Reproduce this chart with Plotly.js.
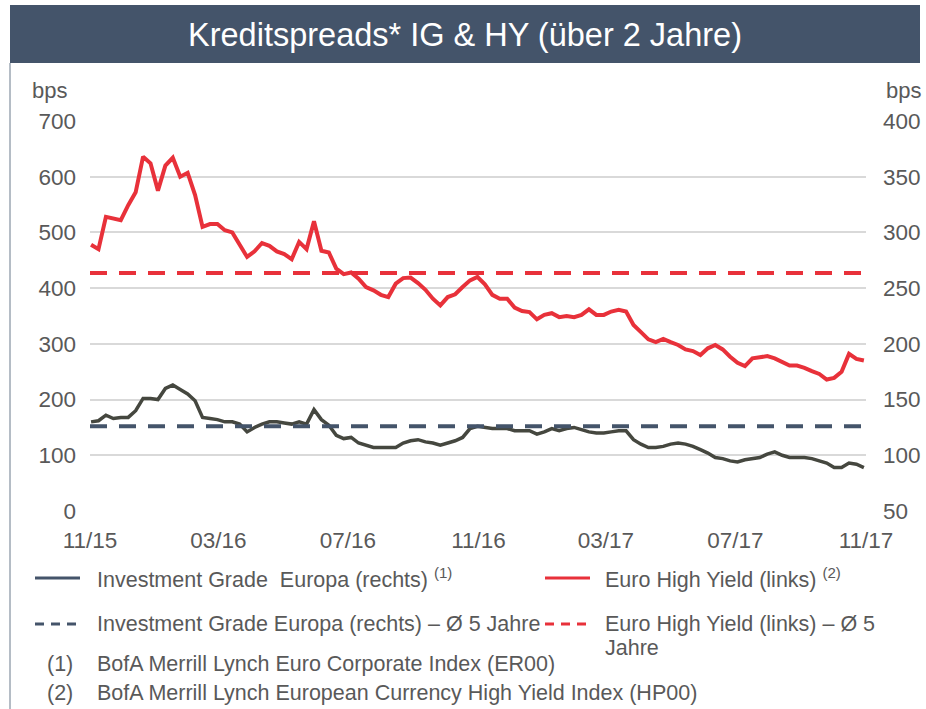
<!DOCTYPE html>
<html><head><meta charset="utf-8">
<script src="https://cdn.plot.ly/plotly-3.0.1.min.js"></script>
<style>html,body{margin:0;padding:0;background:#fff}#chart{width:926px;height:709px}</style>
</head><body><div id="chart"></div>
<script>
// ---- data ----
const startDate = '2015-11-02'; // weekly observations
const hyValues = [
478,470,528,525,522,549,572,636,624,575,
620,634,600,607,567,510,515,515,504,500,
479,456,466,481,476,466,461,452,483,470,
520,467,464,435,425,428,417,402,396,388,
384,408,418,419,409,397,381,369,384,389,
402,414,420,407,388,381,381,365,359,357,
344,352,355,348,350,348,352,362,352,352,
358,361,358,334,321,308,303,309,303,298,
290,287,280,292,298,290,277,266,260,274,
276,278,274,267,261,261,257,251,246,236,
239,250,282,273,270];
const igValues = [
130,131,136,133,134,134,140,151,151,150,
160,163,159,155,149,134,133,132,130,130,
128,121,125,128,130,130,129,128,130,128,
141,132,127,118,115,116,111,109,107,107,
107,107,111,113,114,112,111,109,111,113,
116,124,126,125,124,124,124,122,122,122,
119,121,124,122,124,125,123,121,120,120,
121,122,122,114,110,107,107,108,110,111,
110,108,105,102,98,97,95,94,96,97,
98,101,103,100,98,98,98,97,95,93,
89,89,93,92,89];
const hyAverage5y = 427;
const igAverage5y = 126;
const tickDates = ['2015-11-01','2016-03-01','2016-07-01','2016-11-01','2017-03-01','2017-07-01','2017-11-01'];
const tickLabels = ['11/15','03/16','07/16','11/16','03/17','07/17','11/17'];
const titleText = 'Kreditspreads* IG &amp; HY (über 2 Jahre)';
const legendLabels = [
  'Investment Grade  Europa (rechts) <sup>(1)</sup>',
  'Euro High Yield (links) <sup>(2)</sup>',
  'Investment Grade Europa (rechts) – Ø 5 Jahre',
  'Euro High Yield (links) – Ø 5',
  'Jahre'
];
const footnoteNums = ['(1)','(2)'];
const footnoteTexts = ['BofA Merrill Lynch Euro Corporate Index (ER00)','BofA Merrill Lynch European Currency High Yield Index (HP00)'];

function weeklyDates(start, n){
  const out=[]; const d=new Date(start+'T00:00:00Z');
  for(let i=0;i<n;i++){ const t=new Date(d.getTime()+i*7*86400000); out.push(t.toISOString().slice(0,10)); }
  return out;
}
const dates = weeklyDates(startDate, hyValues.length);
const avgX = [tickDates[0], tickDates[tickDates.length-1]];

// ---- styling ----
const RED='#e8313a', SLATE='#44546a', IGC='#45473f', TXT='#595959';
const FONT='"Liberation Sans", Arial, sans-serif';
const L=90,R=866,T=121,B=511;
const px=x=>(x-L)/(R-L), py=y=>(B-y)/(B-T);

const traces=[
  {x:dates,y:hyValues,type:'scatter',mode:'lines',line:{color:RED,width:4},yaxis:'y',hoverinfo:'skip'},
  {x:dates,y:igValues,type:'scatter',mode:'lines',line:{color:IGC,width:3.5},yaxis:'y2',hoverinfo:'skip'},
  {x:avgX,y:[hyAverage5y,hyAverage5y],type:'scatter',mode:'lines',line:{color:RED,width:4,dash:'17px,12px'},yaxis:'y',hoverinfo:'skip'},
  {x:avgX,y:[igAverage5y,igAverage5y],type:'scatter',mode:'lines',line:{color:SLATE,width:4,dash:'17px,12px'},yaxis:'y2',hoverinfo:'skip'}
];

const shapes=[
  {type:'rect',xref:'paper',yref:'paper',x0:px(10),x1:px(920),y0:py(63),y1:py(5),fillcolor:SLATE,line:{width:0},layer:'below'},
  {type:'line',xref:'paper',yref:'paper',x0:px(10),x1:px(10),y0:py(63),y1:py(709),line:{color:'#6b7a8c',width:1}},
  {type:'line',xref:'paper',yref:'paper',x0:px(35),x1:px(80),y0:py(578),y1:py(578),line:{color:SLATE,width:3}},
  {type:'line',xref:'paper',yref:'paper',x0:px(545),x1:px(590),y0:py(578),y1:py(578),line:{color:RED,width:3}},
  {type:'line',xref:'paper',yref:'paper',x0:px(35),x1:px(80),y0:py(624),y1:py(624),line:{color:SLATE,width:3,dash:'9px,7px'}},
  {type:'line',xref:'paper',yref:'paper',x0:px(545),x1:px(590),y0:py(624),y1:py(624),line:{color:RED,width:3,dash:'9px,7px'}}
];

function ann(text,x,y,xanchor,size){
  return {text:text,xref:'paper',yref:'paper',x:px(x),y:py(y),xanchor:xanchor||'left',yanchor:'middle',showarrow:false,font:{family:FONT,size:size||21.5,color:TXT}};
}
const annotations=[
  ann('bps',30,90,'left',22),
  ann('bps',884,90,'left',22),
  ann(legendLabels[0],95,578),
  ann(legendLabels[1],603,578),
  ann(legendLabels[2],95,624),
  ann(legendLabels[3],603,624),
  ann(legendLabels[4],603,648),
  ann(footnoteNums[0],45,664),
  ann(footnoteTexts[0],95,664),
  ann(footnoteNums[1],45,693),
  ann(footnoteTexts[1],95,693)
];

const layout={
  width:926,height:709,margin:{l:L,r:926-R,t:T,b:709-B,pad:0},
  paper_bgcolor:'#fff',plot_bgcolor:'#fff',showlegend:false,
  font:{family:FONT,color:TXT,size:21},
  title:{text:titleText,font:{family:FONT,size:32.5,color:'#ffffff'},xref:'container',yref:'container',x:465/926,y:1-35/709,xanchor:'center',yanchor:'middle'},
  xaxis:{type:'date',range:[tickDates[0],tickDates[tickDates.length-1]],tickmode:'array',tickvals:tickDates,ticktext:tickLabels,showgrid:false,zeroline:false,showline:false,ticks:'',tickfont:{size:22.5,color:TXT},ticklabelstandoff:13},
  yaxis:{range:[0,700],dtick:100,tick0:0,showgrid:true,gridcolor:'#d9d9d9',gridwidth:2,zeroline:false,showline:false,ticks:'',tickfont:{size:22.5,color:TXT},ticklabelstandoff:13},
  yaxis2:{range:[50,400],dtick:50,tick0:50,overlaying:'y',side:'right',showgrid:false,zeroline:false,showline:false,ticks:'',tickfont:{size:22.5,color:TXT},ticklabelstandoff:16},
  shapes:shapes,annotations:annotations
};
Plotly.newPlot('chart',traces,layout,{displayModeBar:false,staticPlot:true});
</script></body></html>
